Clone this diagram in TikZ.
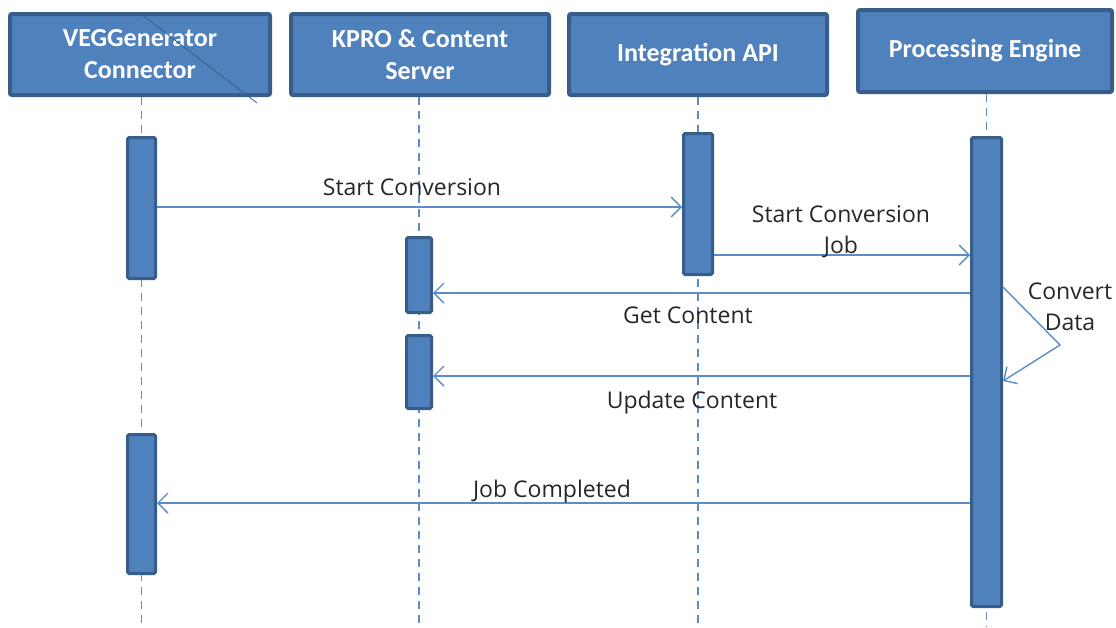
\documentclass[tikz,border=0pt]{standalone}
\usepackage{fontspec}
\setmainfont{Carlito}
\newfontfamily\msgfont{Open Sans}
\usetikzlibrary{arrows.meta}
\definecolor{boxblue}{HTML}{4F81BD}
\definecolor{boxedge}{HTML}{385D8A}
\definecolor{lineblue}{HTML}{5B8CC8}
\definecolor{msgtext}{HTML}{262626}
\tikzset{
  header/.style={draw=boxedge,fill=boxblue,line width=4pt,rounded corners=2pt,
    text=white,font=\bfseries\fontsize{26}{32}\selectfont,align=center},
  bar/.style={draw=boxedge,fill=boxblue,line width=3pt,rounded corners=1.5pt},
  lifeline/.style={lineblue,line width=1.4pt,dash pattern=on 8pt off 6pt},
  msg/.style={lineblue,line width=1.4pt,-{Straight Barb[length=10pt,width=20pt,line width=1.4pt]}},
  label/.style={text=msgtext,font=\msgfont\fontsize{23}{31}\selectfont,align=center,inner sep=0pt}
}
\begin{document}
\begin{tikzpicture}[x=1pt,y=-1pt]
\useasboundingbox (0,0) rectangle (1116,627);
% participants
\node[header,minimum width=260pt,minimum height=81pt] (veg) at (140,54.5) {VEGGenerator\\Connector};
\node[header,minimum width=258pt,minimum height=81pt] (kpro) at (420,54.5) {KPRO \& Content\\Server};
\node[header,minimum width=258pt,minimum height=81pt] (api) at (698,54.5) {Integration API};
\node[header,minimum width=254pt,minimum height=82pt] (eng) at (985,51) {Processing Engine};
\draw[boxedge,line width=0.8pt] (141,14) -- (257,103);
% lifelines
\draw[lifeline] (veg.south -| 141.5,0) -- (141.5,627);
\draw[lifeline] (kpro.south -| 419,0) -- (419,627);
\draw[lifeline] (api.south -| 698,0) -- (698,627);
\draw[lifeline] (eng.south -| 986.5,0) -- (986.5,627);
% activations
\node[bar,minimum width=28pt,minimum height=141pt] (a1) at (141.5,208) {};
\node[bar,minimum width=25pt,minimum height=75pt] (a2) at (419,275) {};
\node[bar,minimum width=25pt,minimum height=73pt] (a3) at (419,372) {};
\node[bar,minimum width=29pt,minimum height=141pt] (a4) at (698,204) {};
\node[bar,minimum width=30pt,minimum height=469pt] (a5) at (986.5,372) {};
\node[bar,minimum width=28pt,minimum height=139pt] (a6) at (141.5,504) {};
% messages
\draw[msg] (a1.east |- 0,207) -- (a4.west |- 0,207);
\node[label] (m1) at (412,187) {Start Conversion};
\draw[msg] (a4.east |- 0,255) -- (a5.west |- 0,255);
\node[label] (m2) at (841,232) {Start Conversion\\Job};
\draw[msg] (a5.west |- 0,293) -- (a2.east |- 0,293);
\node[label] (m3) at (688,315) {Get Content};
\draw[msg] (a5.west |- 0,376) -- (a3.east |- 0,376);
\node[label] (m4) at (692,403) {Update Content};
\draw[msg] (a5.west |- 0,503) -- (a6.east |- 0,503);
\node[label] (m5) at (552,492) {Job Completed};
% self call
\coordinate (knee) at (1060,345);
\draw[msg] (a5.east |- 0,287) -- (knee) -- (a5.east |- 0,381);
\node[label] (m6) at (1070,307) {Convert\\Data};
\end{tikzpicture}
\end{document}
